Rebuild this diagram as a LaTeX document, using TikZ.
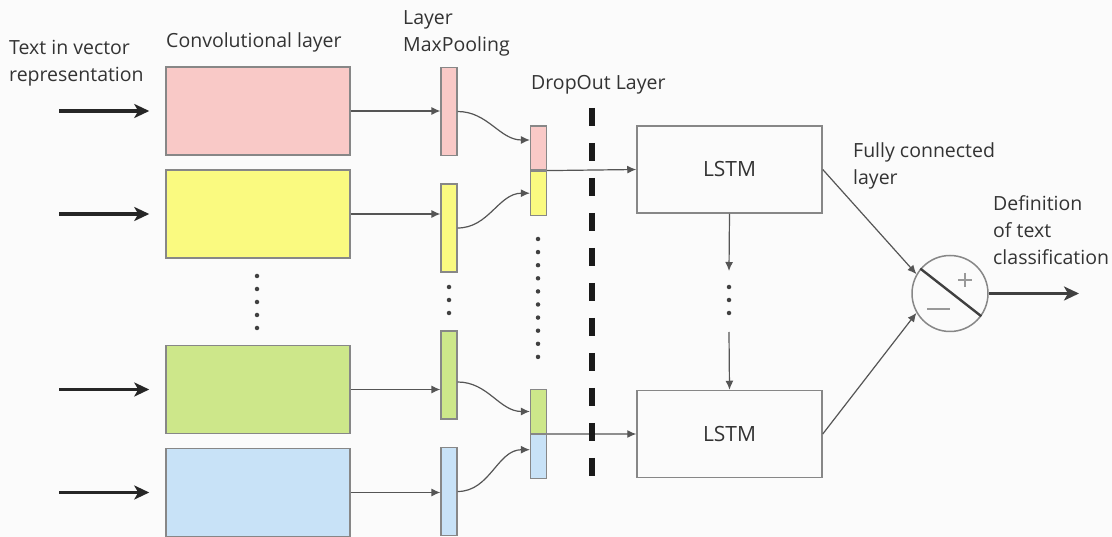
\documentclass[tikz,border=0pt]{standalone}
\usepackage{fontspec}
\setmainfont{Open Sans}
\usepackage{tikz}
\usetikzlibrary{arrows.meta, positioning, calc}
\definecolor{convpink}{RGB}{249, 201, 199}
\definecolor{convyellow}{RGB}{250, 250, 128}
\definecolor{convgreen}{RGB}{205, 231, 138}
\definecolor{convblue}{RGB}{200, 226, 247}
\definecolor{edgegray}{RGB}{135, 135, 135}
\definecolor{linegray}{RGB}{85, 85, 85}

\begin{document}
\begin{tikzpicture}[
        x=1pt, y=-1pt,
        every node/.style={font=\fontsize{19.5}{27}\selectfont, text=black!80},
        conv/.style={rectangle, draw=edgegray, line width=1.5pt,
                     minimum width=184pt, minimum height=88pt, inner sep=0pt},
        bar/.style={rectangle, draw=edgegray, line width=1.2pt,
                    minimum width=16pt, minimum height=88pt, inner sep=0pt},
        half/.style={bar, minimum height=44pt},
        lstm/.style={rectangle, draw=edgegray, line width=1.5pt,
                     minimum width=185pt, minimum height=87pt,
                     font=\fontsize{21}{27}\selectfont},
        lbl/.style={anchor=west, align=left, inner sep=0pt},
        inarr/.style={-{Stealth[length=15pt, width=14pt, inset=4pt]}, line width=3.2pt, black!85},
        arr/.style={-{Latex[length=9pt, width=8pt]}, line width=1.2pt, linegray},
        dot/.style={circle, fill=black!75, inner sep=0pt, minimum size=4.5pt}
      ]
        \useasboundingbox[fill=black!1.5] (0,0) rectangle (1112,537);

        \node[conv, fill=convpink]   (conv1) at (258,111)   {};
        \node[conv, fill=convyellow] (conv2) at (258,214)   {};
        \node[conv, fill=convgreen]  (conv3) at (258,389.5) {};
        \node[conv, fill=convblue]   (conv4) at (258,492.5) {};

        \node[bar, fill=convpink]   (pool1) at (449,111.5) {};
        \node[bar, fill=convyellow] (pool2) at (449,228)   {};
        \node[bar, fill=convgreen]  (pool3) at (449,375)   {};
        \node[bar, fill=convblue]   (pool4) at (449,491.5) {};

        \node[half, fill=convpink]   (drop1) at (538.5,148)   {};
        \node[half, fill=convyellow, below=0pt of drop1] (drop2) {};
        \node[half, fill=convgreen]  (drop3) at (538.5,411.5) {};
        \node[half, fill=convblue, below=0pt of drop3]   (drop4) {};

        \node[lstm] (lstm1) at (729.5,169.5) {LSTM};
        \node[lstm, below=176pt of lstm1] (lstm2) {LSTM};

        \node[circle, draw=edgegray, line width=1.5pt, minimum size=76pt] (sum) at (950,293.5) {};
        \draw[line width=2.4pt, black!75] (sum.140) -- (sum.-36);
        \draw[line width=1.6pt, black!40] (958,280) -- (972,280) (965,273) -- (965,287);
        \draw[line width=2pt, black!40] (927,309) -- (950,309);

        \node[lbl] (txtin) at (9,63) {Text in vector\\representation};
        \node[lbl] (txtconv) at (166,42) {Convolutional layer};
        \node[lbl] (txtpool) at (403,33) {Layer\\MaxPooling};
        \node[lbl] (txtdrop) at (531,85) {DropOut Layer};
        \node[lbl] (txtfc) at (853,166) {Fully connected\\layer};
        \node[lbl] (txtout) at (993,230) {Definition\\of text\\classification};

        \foreach \i in {1,...,4} {
          \coordinate (in\i) at ($(conv\i.west)+(-106,0)$);
          \draw[inarr, shorten >=16pt] (in\i) -- (conv\i.west);
          \draw[arr] (conv\i.east) -- (conv\i.east -| pool\i.west);
        }

        \draw[arr] (pool1.east) to[out=0, in=180] ([yshift=8pt]drop1.west);
        \draw[arr] (pool2.east) to[out=0, in=180] (drop2.west);
        \draw[arr] ([yshift=-7pt]pool3.east) to[out=0, in=180] (drop3.west);
        \draw[arr] (pool4.east) to[out=0, in=180] ([yshift=7pt]drop4.west);

        \draw[arr] (drop1.south east) -- (lstm1.west);
        \draw[arr] (drop3.south east) -- (lstm2.west);

        \coordinate (dashtop) at (592,108);
        \coordinate (dashbot) at (592,478);
        \draw[line width=6pt, black!90, dash pattern=on 18pt off 17pt] (dashtop) -- (dashbot);

        \foreach \y in {276,289,...,328} \node[dot] at (257,\y) {};
        \foreach \y in {287,300,313} \node[dot] at (449,\y) {};
        \foreach \y in {239,252.1,...,358} \node[dot] at (538,\y) {};
        \foreach \y in {287,300,313} \node[dot] at (729,\y) {};

        \coordinate (gapup) at (729,271);
        \coordinate (gapdown) at (729,332);
        \draw[arr] (lstm1.south) -- (gapup);
        \draw[arr] (gapdown) -- (lstm2.north);

        \draw[arr] (lstm1.east) -- (sum.150);
        \draw[arr] (lstm2.east) -- (sum.210);

        \coordinate (out) at (1079,293.5);
        \draw[inarr, black!75] (sum.east) -- (out);
      \end{tikzpicture}
\end{document}
